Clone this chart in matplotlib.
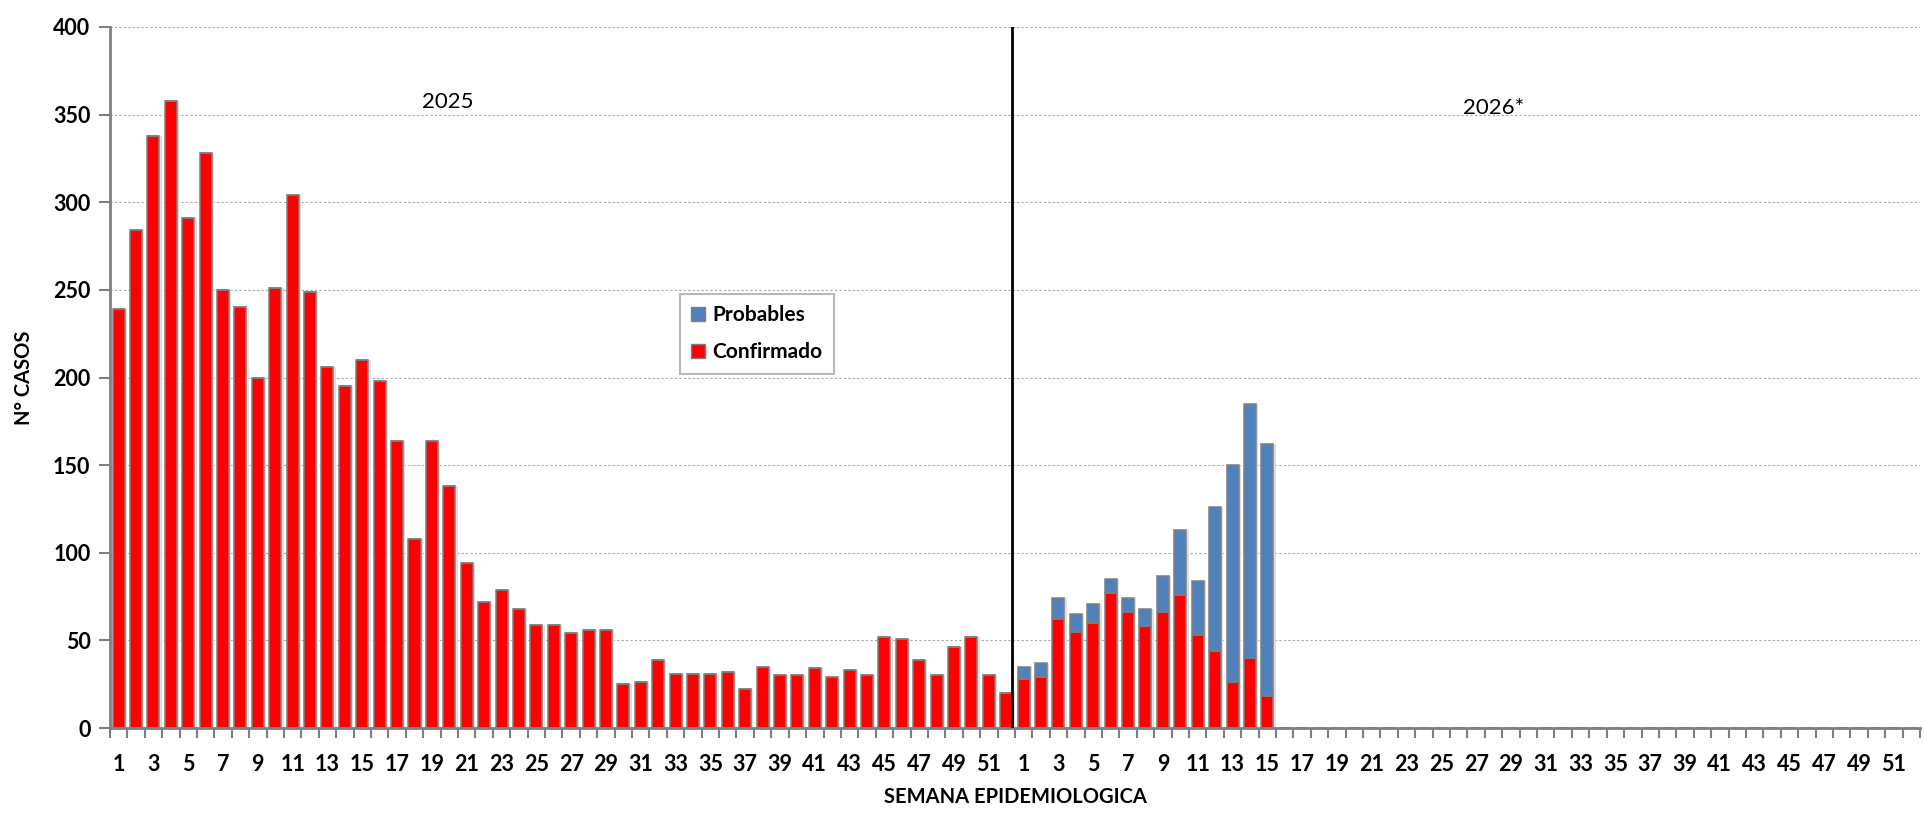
import numpy as np
import matplotlib
matplotlib.use('Agg')
import matplotlib.pyplot as plt
from matplotlib.patches import Patch

plt.rcParams['font.family'] = ['Lato', 'DejaVu Sans']

# 数据
semanas_2025 = list(range(1, 53))
semanas_2026 = list(range(1, 53))
confirmado_2025 = [239, 284, 338, 358, 291, 328, 250, 240, 200, 251,
                   304, 249, 206, 195, 210, 198, 164, 108, 164, 138,
                   94, 72, 79, 68, 59, 59, 54, 56, 56, 25,
                   26, 39, 31, 31, 31, 32, 22, 35, 30, 30,
                   34, 29, 33, 30, 52, 51, 39, 30, 46, 52,
                   30, 20]
confirmado_2026 = [28, 29, 62, 55, 60, 77, 66, 58, 66, 76, 53, 44, 26, 40, 18]
probables_2026 = [7, 8, 12, 10, 11, 8, 8, 10, 21, 37, 31, 82, 124, 145, 144]

ROJO = '#ff0000'
AZUL = '#4f81bd'
BORDE = '#7f7f7f'

n25 = len(semanas_2025)
n_total = n25 + len(semanas_2026)

conf = np.zeros(n_total)
prob = np.zeros(n_total)
conf[:n25] = confirmado_2025
conf[n25:n25 + len(confirmado_2026)] = confirmado_2026
prob[n25:n25 + len(probables_2026)] = probables_2026
x = np.arange(n_total)

fig = plt.figure(figsize=(19.25, 8.15), dpi=100)
ax = fig.add_axes([0.0571, 0.1067, 0.9403, 0.8602])

ancho = 0.69
# sombra
total = conf + prob
ax.bar(x + 0.13, total, width=ancho, color='#dedede', linewidth=0, zorder=1)
ax.bar(x, conf, width=ancho, color=ROJO, edgecolor=BORDE, linewidth=1.1, zorder=2)
ax.bar(x, prob, width=ancho, bottom=conf, color=AZUL, edgecolor=BORDE, linewidth=1.1, zorder=2)

# linea divisoria entre años
ax.axvline(n25 - 0.68, color='black', linewidth=2, zorder=3)

ax.set_xlim(-0.5, n_total - 0.5)
ax.set_ylim(0, 400)
ax.set_yticks(np.arange(0, 401, 50))
ax.yaxis.grid(True, color='#a6a6a6', linestyle=(0, (2, 2)), linewidth=0.8)
ax.set_axisbelow(True)

etiquetas = semanas_2025 + semanas_2026
pos_lab = [i for i in x if etiquetas[i] % 2 == 1]
ax.set_xticks(pos_lab)
ax.set_xticklabels([str(etiquetas[i]) for i in pos_lab], fontsize=15.5, fontweight='bold')
ax.set_xticks(np.arange(-0.5, n_total, 1), minor=True)
ax.tick_params(axis='x', which='major', length=0, pad=19)
ax.tick_params(axis='x', which='minor', length=7, width=1.5, color=BORDE, direction='out')
ax.tick_params(axis='y', length=8, width=1.5, color=BORDE, labelsize=15.5, pad=6)
for t in ax.get_yticklabels():
    t.set_fontweight('bold')

for lado in ['top', 'right']:
    ax.spines[lado].set_visible(False)
for lado in ['left', 'bottom']:
    ax.spines[lado].set_color(BORDE)
    ax.spines[lado].set_linewidth(2)

ax.set_ylabel('N° CASOS', fontsize=14.5, fontweight='bold', labelpad=14)
ax.set_xlabel('SEMANA EPIDEMIOLOGICA', fontsize=14.5, fontweight='bold', labelpad=8)

ax.text(18.9, 357, '2025', fontsize=16, ha='center', va='center')
ax.text(79, 354, '2026*', fontsize=16, ha='center', va='center')

handles = [Patch(facecolor=AZUL, edgecolor=BORDE, label='Probables'),
           Patch(facecolor=ROJO, edgecolor=BORDE, label='Confirmado')]
leg = ax.legend(handles=handles, loc='upper left', bbox_to_anchor=(0.309, 0.634),
                prop={'size': 15, 'weight': 'bold'}, frameon=True, fancybox=False,
                edgecolor='#a6a6a6', handlelength=0.65, handleheight=0.65,
                handletextpad=0.35, labelspacing=0.8, borderpad=0.55)
leg.get_frame().set_linewidth(1.5)

fig.savefig('out.png', dpi=100)
